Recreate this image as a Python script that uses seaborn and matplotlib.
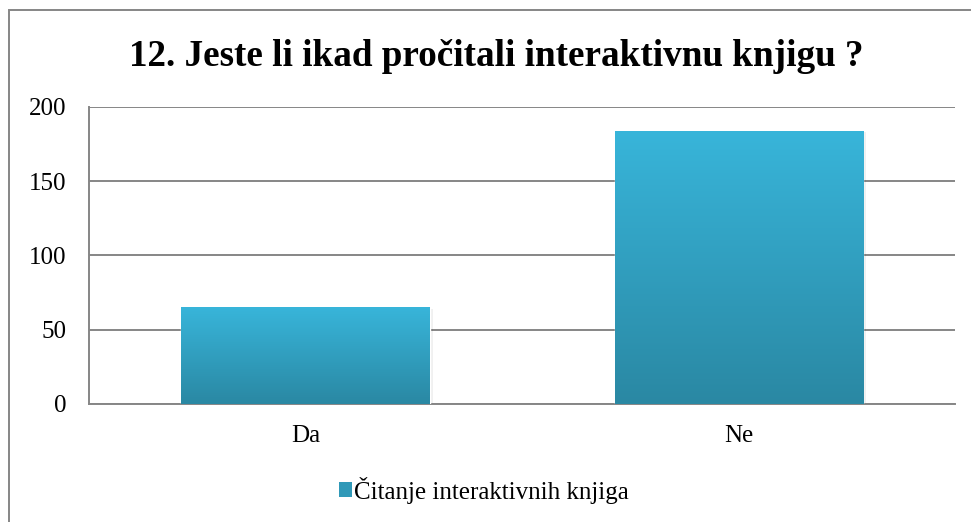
import numpy as np
import pandas as pd
import matplotlib
matplotlib.use("Agg")
import matplotlib.pyplot as plt
import seaborn as sns
from matplotlib.colors import LinearSegmentedColormap
from matplotlib.patches import Rectangle

categories = ["Da", "Ne"]
counts = [65, 184]
series_name = "Čitanje interaktivnih knjiga"
title = "12. Jeste li ikad pročitali interaktivnu knjigu ?"

sns.set_style("white")
plt.rcParams['font.family'] = ['Liberation Serif', 'DejaVu Serif']
plt.rcParams['text.color'] = 'black'
plt.rcParams['xtick.labelcolor'] = 'black'
plt.rcParams['ytick.labelcolor'] = 'black'

df = pd.DataFrame({"odgovor": categories, "broj": counts})

fig = plt.figure(figsize=(9.71, 5.22), dpi=100)
ax = fig.add_axes([0.0917, 0.2261, 0.8919, 0.569])

sns.barplot(data=df, x="odgovor", y="broj", color="#36b1d6", width=0.573,
            saturation=1, ax=ax, zorder=3)

# vertikalni gradijent na stupcima
grad = LinearSegmentedColormap.from_list("g", ["#2a88a3", "#38b5da"])
img = np.linspace(0, 1, 256).reshape(-1, 1)
for p in ax.patches:
    x0, y0 = p.get_x(), p.get_y()
    w, h = p.get_width(), p.get_height()
    # sjena
    for k, a in [(0.004, 0.10), (0.008, 0.06)]:
        ax.add_patch(Rectangle((x0 + k, y0 - 1.0), w, h, facecolor="#000000",
                               alpha=a, zorder=2, edgecolor="none"))
    im = ax.imshow(img, cmap=grad, origin="lower", aspect="auto",
                   extent=[x0, x0 + w, y0, y0 + h], zorder=4)
    im.set_clip_path(p)

ax.set_xlim(-0.5, 1.5)
ax.set_ylim(0, 200)
ax.set_yticks([0, 50, 100, 150, 200])
ax.set_xlabel("")
ax.set_ylabel("")
ax.yaxis.grid(True, color="#868686", linewidth=1.4, zorder=0)
ax.set_axisbelow(True)
for s in ["top", "right"]:
    ax.spines[s].set_visible(False)
for s in ["left", "bottom"]:
    ax.spines[s].set_color("#868686")
    ax.spines[s].set_linewidth(1.4)

ax.set_xticks([0, 1])
ax.set_xticklabels(categories)
ax.tick_params(axis="x", length=0, labelsize=18, pad=15, labelcolor="black")
ax.tick_params(axis="y", length=0, labelsize=18, pad=16.5, labelcolor="black")

fig.text(0.511, 1 - 66 / 522, title, fontsize=26.7, fontweight="bold",
         ha="center", va="baseline", color="black")

# legenda
legend_sq = Rectangle((0, 0), 1, 1, facecolor="#3099b8", edgecolor="none")
leg = fig.legend([legend_sq], [series_name], loc="center", bbox_to_anchor=(0.498, 0.061),
                 frameon=False, fontsize=18, handlelength=0.55, handleheight=0.55,
                 handletextpad=0.05)
for t in leg.get_texts():
    t.set_color("black")

# okvir grafikona
fig.patches.append(Rectangle((0.0093, -0.1), 1.2, 1.081, transform=fig.transFigure,
                             fill=False, edgecolor="#868686", linewidth=1.4))

fig.savefig("out.png", dpi=100)
